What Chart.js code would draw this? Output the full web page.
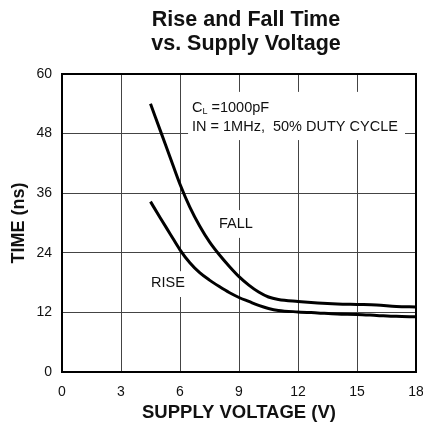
<!DOCTYPE html>
<html>
<head>
<meta charset="utf-8">
<script src="https://cdn.jsdelivr.net/npm/chart.js@4.4.1/dist/chart.umd.min.js"></script>
<style>
  html, body { margin: 0; padding: 0; background: #fff; }
  #wrap { width: 423px; height: 425px; }
</style>
</head>
<body>
<div id="wrap"><canvas id="chart" width="423" height="425"></canvas></div>
<script>
// values
const voltage = [4.5, 5, 5.5, 6, 6.5, 7, 7.5, 8, 8.5, 9, 9.5, 10, 10.5, 11, 12, 13, 14, 15, 16, 17, 18];
const fallTime = [54, 48.6, 43.2, 37.8, 33.2, 29.4, 26.2, 23.6, 21.3, 19.2, 17.5, 16.1, 15.1, 14.6, 14.2, 13.9, 13.7, 13.6, 13.5, 13.2, 13.1];
const riseTime = [34.3, 31, 27.8, 24.6, 22, 20, 18.5, 17.2, 16, 15, 14.2, 13.4, 12.8, 12.4, 12.1, 11.9, 11.7, 11.6, 11.4, 11.2, 11.1];
const xTicks = [0, 3, 6, 9, 12, 15, 18];
const yTicks = [0, 12, 24, 36, 48, 60];
const titleLines = ['Rise and Fall Time', 'vs. Supply Voltage'];

const FONT = "'Liberation Sans', Arial, sans-serif";

function toPoints(xs, ys) {
    return xs.map((x, i) => ({ x: x, y: ys[i] }));
}

// white label boxes + text, placed in data space
const labelPlugin = {
    id: 'labels',
    beforeDatasetsDraw(chart) {
        const ctx = chart.ctx;
        const xs = chart.scales.x, ys = chart.scales.y;
        const px = v => xs.getPixelForValue(v);
        const py = v => ys.getPixelForValue(v);

        ctx.save();
        ctx.fillStyle = '#fff';
        // condition note box
        ctx.fillRect(px(6.41), py(56.4), px(17.44) - px(6.41), py(46.7) - py(56.4));
        // FALL box
        ctx.fillRect(px(7.8), py(32.6), px(9.9) - px(7.8), py(27) - py(32.6));
        // RISE box
        ctx.fillRect(px(4.37), py(20.3), px(6.2) - px(4.37), py(15.1) - py(20.3));

        // frame
        const a = chart.chartArea;
        ctx.strokeStyle = '#000';
        ctx.lineWidth = 2;
        ctx.strokeRect(a.left, a.top, a.right - a.left, a.bottom - a.top);

        ctx.fillStyle = '#111';
        ctx.textBaseline = 'alphabetic';
        ctx.textAlign = 'left';
        ctx.font = '14.5px ' + FONT;
        let x0 = px(6.61);
        let yb = py(52.3);
        ctx.fillText('C', x0, yb);
        let w = ctx.measureText('C').width;
        ctx.font = '9px ' + FONT;
        ctx.fillText('L', x0 + w, yb + 2);
        let w2 = ctx.measureText('L').width;
        ctx.font = '14.5px ' + FONT;
        ctx.fillText(' =1000pF', x0 + w + w2, yb);
        ctx.fillText('IN = 1MHz,  50% DUTY CYCLE', x0, py(48.5));

        ctx.textBaseline = 'middle';
        ctx.fillText('FALL', px(7.98), py(29.8));
        ctx.fillText('RISE', px(4.53), py(17.9));
        ctx.restore();
    },
    afterDraw(chart) {
        const ctx = chart.ctx;
        ctx.save();
        ctx.fillStyle = '#111';
        ctx.textAlign = 'center';
        ctx.textBaseline = 'alphabetic';
        ctx.font = 'bold 21.5px ' + FONT;
        ctx.fillText(titleLines[0], 246, 26);
        ctx.fillText(titleLines[1], 246, 50);
        ctx.restore();
    }
};

const lineStyle = {
    borderColor: '#000',
    borderWidth: 3,
    pointRadius: 0,
    fill: false,
    cubicInterpolationMode: 'monotone'
};

new Chart(document.getElementById('chart'), {
    type: 'line',
    data: {
        datasets: [
            Object.assign({ label: 'FALL', data: toPoints(voltage, fallTime) }, lineStyle),
            Object.assign({ label: 'RISE', data: toPoints(voltage, riseTime) }, lineStyle)
        ]
    },
    options: {
        responsive: false,
        animation: false,
        layout: { padding: { top: 74, right: 7, left: 0, bottom: 0 } },
        plugins: {
            legend: { display: false },
            tooltip: { enabled: false },
            title: { display: false }
        },
        scales: {
            x: {
                type: 'linear',
                min: 0,
                max: 18,
                afterBuildTicks: s => { s.ticks = xTicks.map(v => ({ value: v })); },
                afterFit: s => { s.height = 53; s.paddingLeft = 0; s.paddingRight = 0; },
                grid: { color: '#444', lineWidth: 1, drawTicks: false },
                border: { display: true, color: '#000', width: 2 },
                ticks: { color: '#111', font: { family: FONT, size: 14 }, padding: 12, maxRotation: 0 },
                title: {
                    display: true,
                    text: 'SUPPLY VOLTAGE (V)',
                    color: '#111',
                    font: { family: FONT, size: 18.5, weight: 'bold' },
                    padding: { top: 0, bottom: 1 }
                }
            },
            y: {
                min: 0,
                max: 60,
                afterBuildTicks: s => { s.ticks = yTicks.map(v => ({ value: v })); },
                afterFit: s => { s.width = 62; s.paddingTop = 0; s.paddingBottom = 0; },
                grid: { color: '#444', lineWidth: 1, drawTicks: false },
                border: { display: true, color: '#000', width: 2 },
                ticks: { color: '#111', font: { family: FONT, size: 14 }, padding: 10 },
                title: {
                    display: true,
                    text: 'TIME (ns)',
                    color: '#111',
                    font: { family: FONT, size: 18, weight: 'bold' },
                    padding: { top: 8, bottom: 0 }
                }
            }
        }
    },
    plugins: [labelPlugin]
});
</script>
</body>
</html>
